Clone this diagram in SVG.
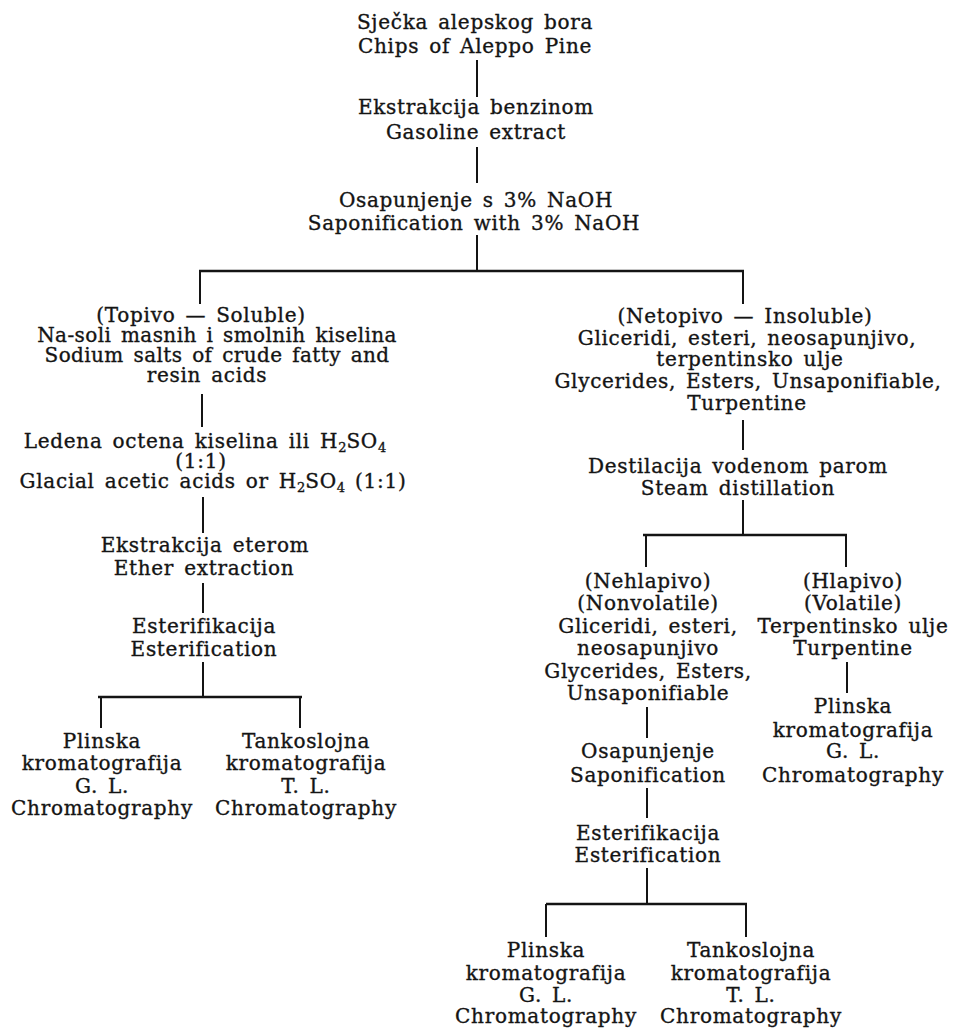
<svg xmlns="http://www.w3.org/2000/svg" width="956" height="1029" viewBox="0 0 956 1029">
  <style>
    text { font-family: "DejaVu Serif", "Liberation Serif", serif; font-size: 20px; letter-spacing: 0.7px; word-spacing: 3px; fill: #141414; stroke: #141414; stroke-width: 0.35px; text-anchor: middle; }
    .tight { letter-spacing: 0.4px; }
    .sub { font-size: 13px; letter-spacing: 0; }
    .ln { stroke: #141414; stroke-width: 2; fill: none; }
    .bar { stroke: #141414; stroke-width: 2.6; fill: none; }
  </style>
  <rect width="956" height="1029" fill="#ffffff"/>

  <!-- connectors -->
  <g id="connectors">
    <path class="ln" d="M477 60V97 M477 147V183 M477 235V271"/>
    <path class="bar" d="M199 271H744"/>
    <path class="ln" d="M200 271V304 M743 271V304"/>
    <!-- soluble branch -->
    <path class="ln" d="M202 394V427 M203 497V533 M203 583V613 M203 662V697"/>
    <path class="bar" d="M98 697H302"/>
    <path class="ln" d="M101 697V728 M300 697V728"/>
    <!-- insoluble branch -->
    <path class="ln" d="M743 420V450 M743 500V535"/>
    <path class="bar" d="M643 535H847"/>
    <path class="ln" d="M646 535V567 M846 535V567"/>
    <path class="ln" d="M847 662V693"/>
    <path class="ln" d="M647 707V738 M647 788V818 M647 868V904"/>
    <path class="bar" d="M546 904H747"/>
    <path class="ln" d="M546 904V937 M746 904V937"/>
  </g>

  <g id="n-chips">
    <text x="475" y="29">Sječka alepskog bora</text>
    <text x="475" y="53">Chips of Aleppo Pine</text>
  </g>
  <g id="n-extract">
    <text x="476" y="114">Ekstrakcija benzinom</text>
    <text x="476" y="139">Gasoline extract</text>
  </g>
  <g id="n-sapon">
    <text x="476" y="207">Osapunjenje s 3% NaOH</text>
    <text x="474" y="230">Saponification with 3% NaOH</text>
  </g>

  <g id="n-soluble">
    <text x="201" y="322">(Topivo — Soluble)</text>
    <text class="tight" x="217" y="342">Na-soli masnih i smolnih kiselina</text>
    <text class="tight" x="217" y="362">Sodium salts of crude fatty and</text>
    <text x="207" y="382">resin acids</text>
  </g>
  <g id="n-acid">
    <text x="205" y="448">Ledena octena kiselina ili H<tspan class="sub" dy="4">2</tspan><tspan dy="-4">SO</tspan><tspan class="sub" dy="4">4</tspan></text>
    <text x="201" y="468">(1:1)</text>
    <text x="213" y="488">Glacial acetic acids or H<tspan class="sub" dy="4">2</tspan><tspan dy="-4">SO</tspan><tspan class="sub" dy="4">4</tspan><tspan dy="-4"> (1:1)</tspan></text>
  </g>
  <g id="n-ether">
    <text x="205" y="552">Ekstrakcija eterom</text>
    <text x="204" y="575">Ether extraction</text>
  </g>
  <g id="n-ester-l">
    <text x="204" y="633">Esterifikacija</text>
    <text x="204" y="656">Esterification</text>
  </g>
  <g id="n-glc-l">
    <text x="102" y="748">Plinska</text>
    <text x="102" y="770">kromatografija</text>
    <text x="102" y="793">G. L.</text>
    <text x="102" y="815">Chromatography</text>
  </g>
  <g id="n-tlc-l">
    <text x="306" y="748">Tankoslojna</text>
    <text x="306" y="770">kromatografija</text>
    <text x="306" y="793">T. L.</text>
    <text x="306" y="815">Chromatography</text>
  </g>

  <g id="n-insoluble">
    <text x="745" y="323">(Netopivo — Insoluble)</text>
    <text x="747" y="345">Gliceridi, esteri, neosapunjivo,</text>
    <text x="750" y="366">terpentinsko ulje</text>
    <text x="748" y="388">Glycerides, Esters, Unsaponifiable,</text>
    <text x="747" y="410">Turpentine</text>
  </g>
  <g id="n-steam">
    <text x="738" y="473">Destilacija vodenom parom</text>
    <text x="738" y="495">Steam distillation</text>
  </g>
  <g id="n-nonvolatile">
    <text x="648" y="588">(Nehlapivo)</text>
    <text x="648" y="610">(Nonvolatile)</text>
    <text x="648" y="633">Gliceridi, esteri,</text>
    <text x="648" y="655">neosapunjivo</text>
    <text x="648" y="678">Glycerides, Esters,</text>
    <text x="648" y="700">Unsaponifiable</text>
  </g>
  <g id="n-volatile">
    <text x="853" y="588">(Hlapivo)</text>
    <text x="853" y="610">(Volatile)</text>
    <text x="853" y="633">Terpentinsko ulje</text>
    <text x="853" y="655">Turpentine</text>
  </g>
  <g id="n-glc-v">
    <text x="853" y="713">Plinska</text>
    <text x="853" y="737">kromatografija</text>
    <text x="853" y="758">G. L.</text>
    <text x="853" y="782">Chromatography</text>
  </g>
  <g id="n-sapon2">
    <text x="648" y="758">Osapunjenje</text>
    <text x="648" y="782">Saponification</text>
  </g>
  <g id="n-ester-r">
    <text x="648" y="840">Esterifikacija</text>
    <text x="648" y="862">Esterification</text>
  </g>
  <g id="n-glc-r">
    <text x="546" y="957">Plinska</text>
    <text x="546" y="980">kromatografija</text>
    <text x="546" y="1002">G. L.</text>
    <text x="546" y="1023">Chromatography</text>
  </g>
  <g id="n-tlc-r">
    <text x="751" y="957">Tankoslojna</text>
    <text x="751" y="980">kromatografija</text>
    <text x="751" y="1002">T. L.</text>
    <text x="751" y="1023">Chromatography</text>
  </g>
</svg>
